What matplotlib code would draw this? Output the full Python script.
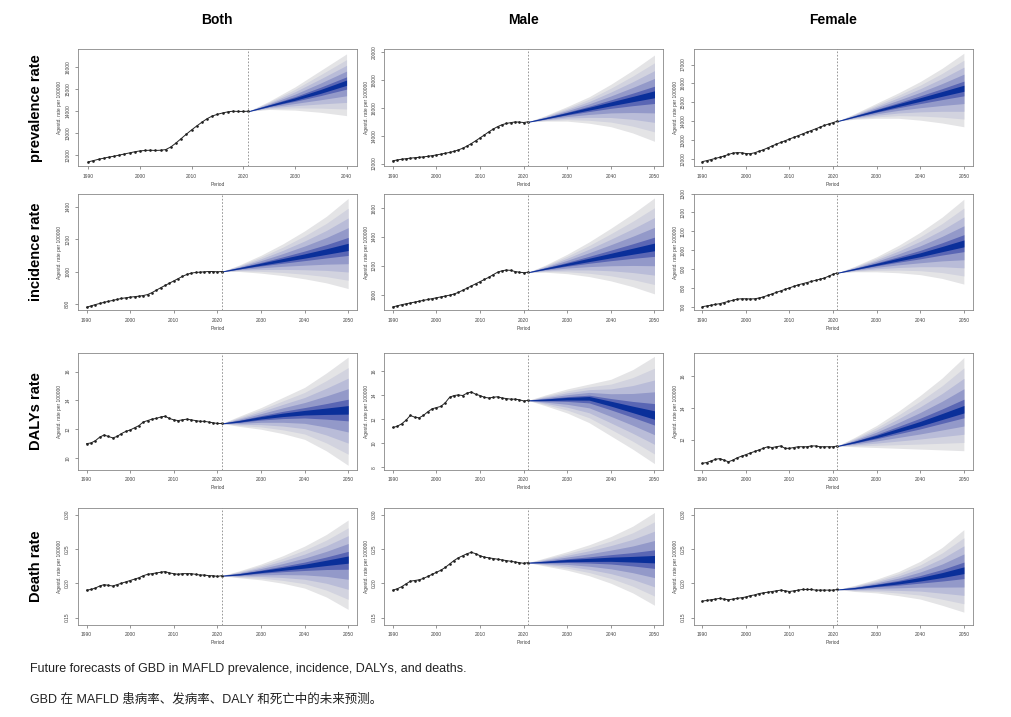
import matplotlib
matplotlib.use("Agg")
import matplotlib.pyplot as plt
import numpy as np

plt.rcParams['font.family'] = ['Liberation Sans', 'Noto Sans CJK SC', 'DejaVu Sans']

years_hist = list(range(1990, 2022))
fc_years = [2021, 2025, 2030, 2035, 2040, 2045, 2050]
fc_years_short = [2021, 2025, 2030, 2035, 2040]

col_titles = ["Both", "Male", "Female"]
row_titles = ["prevalence rate", "incidence rate", "DALYs rate", "Death rate"]

# historical series (1990-2021)
prev_both = [11700,11760,11820,11870,11920,11960,12010,12060,12110,12160,12200,12220,12230,12220,12230,12260,12380,12560,12760,12960,13150,13330,13500,13660,13780,13860,13920,13970,14000,13990,13990,14000]
prev_male = [12200,12260,12310,12350,12390,12420,12450,12480,12520,12570,12620,12680,12740,12800,12880,12980,13100,13260,13440,13640,13850,14060,14280,14480,14650,14790,14880,14940,14990,14980,14950,15000]
prev_female = [11850,11900,11960,12020,12080,12150,12230,12300,12330,12320,12280,12270,12320,12400,12480,12580,12680,12780,12870,12960,13050,13140,13230,13320,13410,13500,13590,13680,13770,13850,13920,14000]
inc_both = [780,788,796,803,810,816,822,828,834,838,842,845,848,852,858,870,885,900,914,928,942,956,970,982,990,994,996,998,1000,1000,998,1000]
inc_male = [915,922,930,936,942,948,954,960,966,972,978,984,990,996,1004,1015,1030,1045,1060,1075,1090,1105,1120,1138,1155,1165,1170,1168,1160,1155,1152,1155]
inc_female = [700,704,708,712,716,722,728,734,740,742,742,741,742,746,752,760,768,776,784,792,800,808,816,822,828,834,840,846,852,862,872,880]
daly_both = [11.0,11.05,11.2,11.45,11.6,11.5,11.4,11.5,11.7,11.85,11.95,12.1,12.25,12.5,12.6,12.7,12.75,12.85,12.9,12.75,12.65,12.6,12.65,12.7,12.65,12.6,12.55,12.55,12.5,12.45,12.4,12.4]
daly_male = [11.3,11.4,11.6,11.9,12.3,12.15,12.1,12.3,12.6,12.85,12.95,13.05,13.35,13.8,13.95,14.0,13.95,14.15,14.25,14.05,13.95,13.8,13.75,13.8,13.85,13.75,13.7,13.65,13.65,13.6,13.5,13.55]
daly_female = [10.5,10.55,10.65,10.75,10.8,10.7,10.6,10.7,10.85,10.95,11.05,11.15,11.25,11.35,11.45,11.55,11.5,11.55,11.6,11.45,11.45,11.5,11.55,11.55,11.55,11.6,11.6,11.55,11.55,11.55,11.55,11.6]
death_both = [0.190,0.191,0.193,0.196,0.198,0.197,0.196,0.198,0.200,0.202,0.204,0.206,0.208,0.211,0.213,0.214,0.215,0.216,0.217,0.215,0.214,0.213,0.214,0.214,0.214,0.213,0.212,0.212,0.211,0.211,0.210,0.211]
death_male = [0.190,0.192,0.195,0.199,0.203,0.204,0.205,0.207,0.210,0.213,0.216,0.219,0.223,0.228,0.233,0.237,0.240,0.243,0.245,0.243,0.240,0.238,0.237,0.236,0.235,0.234,0.233,0.232,0.231,0.230,0.229,0.230]
death_female = [0.174,0.175,0.176,0.177,0.178,0.177,0.176,0.177,0.178,0.179,0.180,0.182,0.183,0.185,0.186,0.187,0.188,0.189,0.190,0.189,0.188,0.189,0.190,0.191,0.191,0.191,0.190,0.190,0.190,0.190,0.190,0.191]

# forecasts: median, outer upper, outer lower
prev_both_med = [14000,14250,14550,14900,15300]
prev_both_up = [14000,14450,15100,15850,16600]
prev_both_lo = [14000,14080,14050,13950,13800]
prev_male_med = [15000,15260,15600,15950,16300,16650,17000]
prev_male_up = [15000,15450,16100,16800,17700,18700,19800]
prev_male_lo = [15000,15050,15050,14900,14650,14200,13600]
prev_female_med = [14000,14250,14550,14850,15150,15450,15750]
prev_female_up = [14000,14400,14950,15500,16100,16800,17600]
prev_female_lo = [14000,14100,14150,14150,14050,13900,13700]
inc_both_med = [1000,1020,1045,1070,1095,1122,1150]
inc_both_up = [1000,1040,1100,1170,1250,1340,1450]
inc_both_lo = [1000,1000,990,975,955,930,895]
inc_male_med = [1155,1180,1210,1240,1270,1300,1330]
inc_male_up = [1155,1205,1280,1365,1460,1560,1670]
inc_male_lo = [1155,1155,1145,1125,1095,1055,1005]
inc_female_med = [880,900,925,950,975,1005,1035]
inc_female_up = [880,915,965,1025,1095,1175,1270]
inc_female_lo = [880,885,885,880,870,850,820]
daly_both_med = [12.4,12.55,12.8,13.0,13.15,13.25,13.35]
daly_both_up = [12.4,12.9,13.5,14.2,14.9,15.9,17.0]
daly_both_lo = [12.4,12.2,12.0,11.7,11.3,10.5,9.5]
daly_male_med = [13.55,13.6,13.7,13.75,13.3,12.8,12.3]
daly_male_up = [13.55,14.0,14.5,14.9,15.3,16.1,17.2]
daly_male_lo = [13.55,13.1,12.5,11.7,10.6,9.5,8.3]
daly_female_med = [11.6,11.85,12.2,12.6,13.0,13.45,13.9]
daly_female_up = [11.6,12.15,12.9,13.8,14.8,15.9,17.2]
daly_female_lo = [11.6,11.55,11.5,11.45,11.4,11.35,11.3]
death_both_med = [0.211,0.213,0.217,0.221,0.225,0.230,0.235]
death_both_up = [0.211,0.218,0.228,0.240,0.254,0.271,0.292]
death_both_lo = [0.211,0.208,0.205,0.200,0.193,0.180,0.162]
death_male_med = [0.230,0.231,0.233,0.234,0.235,0.235,0.235]
death_male_up = [0.230,0.237,0.246,0.256,0.268,0.283,0.303]
death_male_lo = [0.230,0.225,0.219,0.211,0.200,0.186,0.168]
death_female_med = [0.191,0.193,0.197,0.201,0.206,0.212,0.219]
death_female_up = [0.191,0.197,0.206,0.217,0.232,0.252,0.278]
death_female_lo = [0.191,0.188,0.186,0.182,0.177,0.168,0.158]

panels = [
    [(prev_both, prev_both_med, prev_both_up, prev_both_lo, (11500,16800), [12000,13000,14000,15000,16000], 2040),
     (prev_male, prev_male_med, prev_male_up, prev_male_lo, (11800,20200), [12000,14000,16000,18000,20000], 2050),
     (prev_female, prev_female_med, prev_female_up, prev_female_lo, (11600,17800), [12000,13000,14000,15000,16000,17000], 2050)],
    [(inc_both, inc_both_med, inc_both_up, inc_both_lo, (760,1480), [800,1000,1200,1400], 2050),
     (inc_male, inc_male_med, inc_male_up, inc_male_lo, (890,1700), [1000,1200,1400,1600], 2050),
     (inc_female, inc_female_med, inc_female_up, inc_female_lo, (680,1300), [700,800,900,1000,1100,1200,1300], 2050)],
    [(daly_both, daly_both_med, daly_both_up, daly_both_lo, (9.2,17.3), [10,12,14,16], 2050),
     (daly_male, daly_male_med, daly_male_up, daly_male_lo, (7.8,17.5), [8,10,12,14,16], 2050),
     (daly_female, daly_female_med, daly_female_up, daly_female_lo, (10.1,17.5), [12,14,16], 2050)],
    [(death_both, death_both_med, death_both_up, death_both_lo, (0.14,0.31), [0.15,0.20,0.25,0.30], 2050),
     (death_male, death_male_med, death_male_up, death_male_lo, (0.14,0.31), [0.15,0.20,0.25,0.30], 2050),
     (death_female, death_female_med, death_female_up, death_female_lo, (0.14,0.31), [0.15,0.20,0.25,0.30], 2050)],
]

band_fracs = [1.0, 0.8, 0.6, 0.4, 0.2]
band_cols = ['#e4e4e6', '#d2d3df', '#b9bcd8', '#9399c9', '#5a66b4']

fig = plt.figure(figsize=(10.11, 7.17), dpi=100)
lefts = [0.077, 0.380, 0.686]
bottoms = [0.768, 0.567, 0.345, 0.129]
W, H = 0.276, 0.163

for r in range(4):
    for c in range(3):
        hist, med, up, lo, ylim, yticks, xend = panels[r][c]
        fy = fc_years if xend == 2050 else fc_years_short
        ax = fig.add_axes([lefts[c], bottoms[r], W, H])
        m = np.array(med); u = np.array(up); l = np.array(lo)
        for f, col in zip(band_fracs, band_cols):
            ax.fill_between(fy, m - f*(m-l), m + f*(u-m), color=col, lw=0)
        ax.fill_between(fy, m - 0.07*(m-l) - 0.004*(ylim[1]-ylim[0]), m + 0.07*(u-m) + 0.004*(ylim[1]-ylim[0]), color='#0a2f9a', lw=0)
        ax.plot(years_hist, hist, color='#222222', lw=0.7, marker='o', ms=0.9)
        ax.axvline(2021, color='#888888', lw=0.6, ls=(0, (2, 2)))
        ax.set_ylim(*ylim)
        ax.set_xlim(1988, xend + 2)
        ax.set_xticks(list(range(1990, xend + 1, 10)))
        ax.set_yticks(yticks)
        ax.tick_params(labelsize=3.5, length=2, width=0.4, colors='#444444')
        for lab in ax.get_yticklabels():
            lab.set_rotation(90); lab.set_va('center')
        for s in ax.spines.values():
            s.set_color('#888888'); s.set_linewidth(0.6)
        ax.set_xlabel('Period', fontsize=3.5, labelpad=2, color='#444444')
        ax.set_ylabel('Agestd. rate per 100000', fontsize=3.5, labelpad=2, color='#444444')
        if r == 0:
            ax.set_title(col_titles[c], fontsize=10, fontweight='bold', pad=18)
        if c == 0:
            fig.text(0.036, bottoms[r] + H/2, row_titles[r], rotation=90, fontsize=10.5,
                     fontweight='bold', ha='center', va='center')

fig.text(0.030, 0.063, "Future forecasts of GBD in MAFLD prevalence, incidence, DALYs, and deaths.", fontsize=9, color='#222222')
fig.text(0.030, 0.020, "GBD 在 MAFLD 患病率、发病率、DALY 和死亡中的未来预测。", fontsize=9, color='#222222')

fig.savefig("out.png", dpi=100, facecolor='white')
